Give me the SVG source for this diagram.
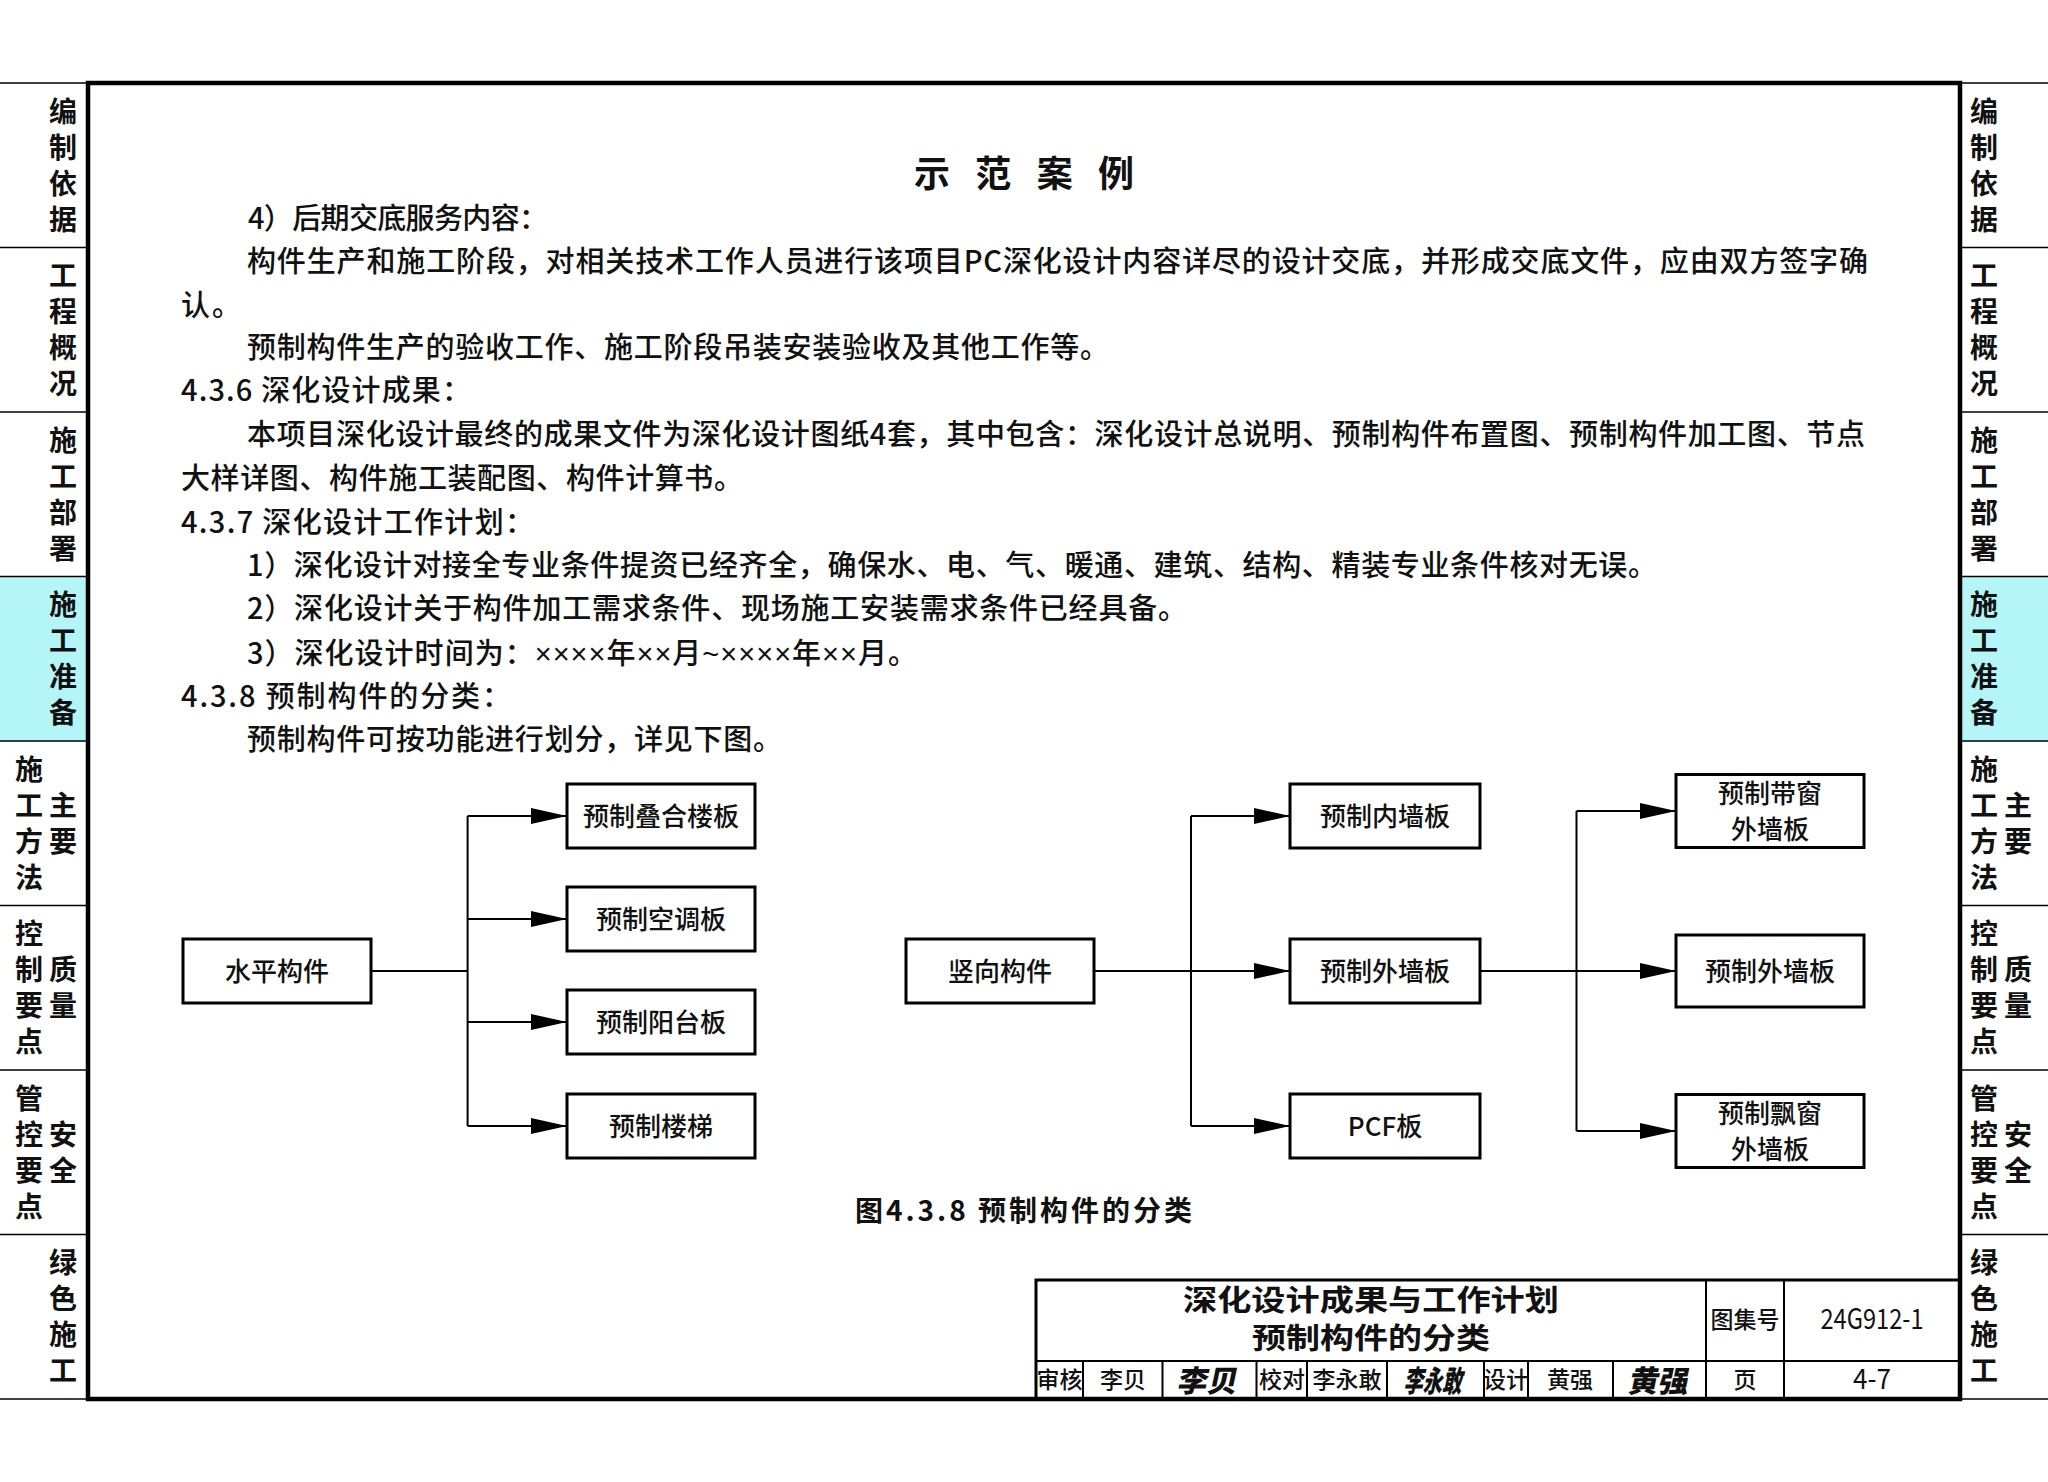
<svg xmlns="http://www.w3.org/2000/svg" width="2048" height="1482" viewBox="0 0 2048 1482">
<defs>
<style>
.t{font-family:"Noto Sans CJK SC","Noto Sans",sans-serif;fill:#111}
.body{font-size:29px;font-weight:500}
.tab{font-size:28px;font-weight:600;text-anchor:middle}
.box{fill:#fff;stroke:#000;stroke-width:3}
.bt{font-size:26px;font-weight:500;text-anchor:middle}
.conn{stroke:#000;stroke-width:2;fill:none}
.arr{stroke:#000;stroke-width:2;fill:none;marker-end:url(#ah)}
.tl{stroke:#000;stroke-width:1.5}
.tb{stroke:#000;stroke-width:2;fill:none}
.tbt{font-size:23px;font-weight:500;text-anchor:middle}
.sig{font-size:30px;font-weight:900;text-anchor:middle}
.lat{font-family:"Liberation Sans",sans-serif}
</style>
<marker id="ah" markerUnits="userSpaceOnUse" markerWidth="36" markerHeight="16" refX="36" refY="8" orient="auto"><path d="M0,0 L36,8 L0,16 Z" fill="#000"/></marker>
</defs>
<rect x="0" y="0" width="2048" height="1482" fill="#fff"/>

<g id="tabs-left">
<rect x="0" y="576.5" width="88" height="164.5" fill="#b4f6f8"/>
<g class="tl">
<line x1="0" y1="83" x2="88" y2="83"/><line x1="0" y1="247.5" x2="88" y2="247.5"/><line x1="0" y1="412" x2="88" y2="412"/><line x1="0" y1="576.5" x2="88" y2="576.5"/><line x1="0" y1="741" x2="88" y2="741"/><line x1="0" y1="905.5" x2="88" y2="905.5"/><line x1="0" y1="1070" x2="88" y2="1070"/><line x1="0" y1="1234.5" x2="88" y2="1234.5"/><line x1="0" y1="1399" x2="88" y2="1399"/>
</g>
<text class="t tab"><tspan x="63" y="121.5">编</tspan><tspan x="63" y="157.5">制</tspan><tspan x="63" y="193.5">依</tspan><tspan x="63" y="229.5">据</tspan></text>
<text class="t tab"><tspan x="63" y="286">工</tspan><tspan x="63" y="322">程</tspan><tspan x="63" y="358">概</tspan><tspan x="63" y="394">况</tspan></text>
<text class="t tab"><tspan x="63" y="450.5">施</tspan><tspan x="63" y="486.5">工</tspan><tspan x="63" y="522.5">部</tspan><tspan x="63" y="558.5">署</tspan></text>
<text class="t tab"><tspan x="63" y="615">施</tspan><tspan x="63" y="651">工</tspan><tspan x="63" y="687">准</tspan><tspan x="63" y="723">备</tspan></text>
<text class="t tab"><tspan x="29" y="779.5">施</tspan><tspan x="29" y="815.5">工</tspan><tspan x="29" y="851.5">方</tspan><tspan x="29" y="887.5">法</tspan></text>
<text class="t tab"><tspan x="63" y="815.5">主</tspan><tspan x="63" y="851.5">要</tspan></text>
<text class="t tab"><tspan x="29" y="944">控</tspan><tspan x="29" y="980">制</tspan><tspan x="29" y="1016">要</tspan><tspan x="29" y="1052">点</tspan></text>
<text class="t tab"><tspan x="63" y="980">质</tspan><tspan x="63" y="1016">量</tspan></text>
<text class="t tab"><tspan x="29" y="1108.5">管</tspan><tspan x="29" y="1144.5">控</tspan><tspan x="29" y="1180.5">要</tspan><tspan x="29" y="1216.5">点</tspan></text>
<text class="t tab"><tspan x="63" y="1144.5">安</tspan><tspan x="63" y="1180.5">全</tspan></text>
<text class="t tab"><tspan x="63" y="1273">绿</tspan><tspan x="63" y="1309">色</tspan><tspan x="63" y="1345">施</tspan><tspan x="63" y="1381">工</tspan></text>
</g>

<g id="tabs-right">
<rect x="1960" y="576.5" width="88" height="164.5" fill="#b4f6f8"/>
<g class="tl">
<line x1="1960" y1="83" x2="2048" y2="83"/><line x1="1960" y1="247.5" x2="2048" y2="247.5"/><line x1="1960" y1="412" x2="2048" y2="412"/><line x1="1960" y1="576.5" x2="2048" y2="576.5"/><line x1="1960" y1="741" x2="2048" y2="741"/><line x1="1960" y1="905.5" x2="2048" y2="905.5"/><line x1="1960" y1="1070" x2="2048" y2="1070"/><line x1="1960" y1="1234.5" x2="2048" y2="1234.5"/><line x1="1960" y1="1399" x2="2048" y2="1399"/>
</g>
<text class="t tab"><tspan x="1984" y="121.5">编</tspan><tspan x="1984" y="157.5">制</tspan><tspan x="1984" y="193.5">依</tspan><tspan x="1984" y="229.5">据</tspan></text>
<text class="t tab"><tspan x="1984" y="286">工</tspan><tspan x="1984" y="322">程</tspan><tspan x="1984" y="358">概</tspan><tspan x="1984" y="394">况</tspan></text>
<text class="t tab"><tspan x="1984" y="450.5">施</tspan><tspan x="1984" y="486.5">工</tspan><tspan x="1984" y="522.5">部</tspan><tspan x="1984" y="558.5">署</tspan></text>
<text class="t tab"><tspan x="1984" y="615">施</tspan><tspan x="1984" y="651">工</tspan><tspan x="1984" y="687">准</tspan><tspan x="1984" y="723">备</tspan></text>
<text class="t tab"><tspan x="1984" y="779.5">施</tspan><tspan x="1984" y="815.5">工</tspan><tspan x="1984" y="851.5">方</tspan><tspan x="1984" y="887.5">法</tspan></text>
<text class="t tab"><tspan x="2018" y="815.5">主</tspan><tspan x="2018" y="851.5">要</tspan></text>
<text class="t tab"><tspan x="1984" y="944">控</tspan><tspan x="1984" y="980">制</tspan><tspan x="1984" y="1016">要</tspan><tspan x="1984" y="1052">点</tspan></text>
<text class="t tab"><tspan x="2018" y="980">质</tspan><tspan x="2018" y="1016">量</tspan></text>
<text class="t tab"><tspan x="1984" y="1108.5">管</tspan><tspan x="1984" y="1144.5">控</tspan><tspan x="1984" y="1180.5">要</tspan><tspan x="1984" y="1216.5">点</tspan></text>
<text class="t tab"><tspan x="2018" y="1144.5">安</tspan><tspan x="2018" y="1180.5">全</tspan></text>
<text class="t tab"><tspan x="1984" y="1273">绿</tspan><tspan x="1984" y="1309">色</tspan><tspan x="1984" y="1345">施</tspan><tspan x="1984" y="1381">工</tspan></text>
</g>

<rect id="frame" x="88" y="83" width="1872" height="1316" fill="none" stroke="#000" stroke-width="4.5"/>

<g id="heading">
<text class="t" x="914" y="187" font-size="36" font-weight="700" textLength="220" lengthAdjust="spacing">示范案例</text>
</g>

<g id="body-text" class="t body">
<text x="248" y="228.6" textLength="300" lengthAdjust="spacing">4）后期交底服务内容：</text>
<text x="247" y="271.7" textLength="1621" lengthAdjust="spacing">构件生产和施工阶段，对相关技术工作人员进行该项目PC深化设计内容详尽的设计交底，并形成交底文件，应由双方签字确</text>
<text x="181" y="316" textLength="60" lengthAdjust="spacing">认。</text>
<text x="247" y="358" textLength="862" lengthAdjust="spacing">预制构件生产的验收工作、施工阶段吊装安装验收及其他工作等。</text>
<text x="181" y="401" textLength="290" lengthAdjust="spacing">4.3.6 深化设计成果：</text>
<text x="247" y="445.4" textLength="1618" lengthAdjust="spacing">本项目深化设计最终的成果文件为深化设计图纸4套，其中包含：深化设计总说明、预制构件布置图、预制构件加工图、节点</text>
<text x="181" y="488.5" textLength="562" lengthAdjust="spacing">大样详图、构件施工装配图、构件计算书。</text>
<text x="181" y="533" textLength="353" lengthAdjust="spacing">4.3.7 深化设计工作计划：</text>
<text x="247" y="576" textLength="1410" lengthAdjust="spacing">1）深化设计对接全专业条件提资已经齐全，确保水、电、气、暖通、建筑、结构、精装专业条件核对无误。</text>
<text x="247" y="619" textLength="940" lengthAdjust="spacing">2）深化设计关于构件加工需求条件、现场施工安装需求条件已经具备。</text>
<text x="247" y="663.5" textLength="670" lengthAdjust="spacing">3）深化设计时间为：<tspan class="lat">××××</tspan>年<tspan class="lat">××</tspan>月<tspan class="lat">~××××</tspan>年<tspan class="lat">××</tspan>月。</text>
<text x="181" y="706.6" textLength="330" lengthAdjust="spacing">4.3.8 预制构件的分类：</text>
<text x="247" y="749.7" textLength="535" lengthAdjust="spacing">预制构件可按功能进行划分，详见下图。</text>
</g>

<g id="connectors">
<path class="conn" d="M371,971 H467.6 M467.6,816 V1126"/>
<path class="arr" d="M467.6,816 H567"/>
<path class="arr" d="M467.6,919 H567"/>
<path class="arr" d="M467.6,1022 H567"/>
<path class="arr" d="M467.6,1126 H567"/>
<path class="conn" d="M1191,816 V1126"/>
<path class="arr" d="M1094,971 H1290"/>
<path class="arr" d="M1191,816 H1290"/>
<path class="arr" d="M1191,1126 H1290"/>
<path class="conn" d="M1576.5,811 V1131"/>
<path class="arr" d="M1480,971 H1676"/>
<path class="arr" d="M1576.5,811 H1676"/>
<path class="arr" d="M1576.5,1131 H1676"/>
</g>

<g id="node-horizontal"><rect class="box" x="183" y="939" width="188" height="64"/><text class="t bt" x="277" y="981">水平构件</text></g>
<g id="node-h1"><rect class="box" x="567" y="784" width="188" height="64"/><text class="t bt" x="661" y="826">预制叠合楼板</text></g>
<g id="node-h2"><rect class="box" x="567" y="887" width="188" height="64"/><text class="t bt" x="661" y="929">预制空调板</text></g>
<g id="node-h3"><rect class="box" x="567" y="990" width="188" height="64"/><text class="t bt" x="661" y="1032">预制阳台板</text></g>
<g id="node-h4"><rect class="box" x="567" y="1094" width="188" height="64"/><text class="t bt" x="661" y="1136">预制楼梯</text></g>

<g id="node-vertical"><rect class="box" x="906" y="939" width="188" height="64"/><text class="t bt" x="1000" y="981">竖向构件</text></g>
<g id="node-v1"><rect class="box" x="1290" y="784" width="190" height="64"/><text class="t bt" x="1385" y="826">预制内墙板</text></g>
<g id="node-v2"><rect class="box" x="1290" y="939" width="190" height="64"/><text class="t bt" x="1385" y="981">预制外墙板</text></g>
<g id="node-v3"><rect class="box" x="1290" y="1094" width="190" height="64"/><text class="t bt" x="1385" y="1136">PCF板</text></g>

<g id="node-w1"><rect class="box" x="1676" y="774.5" width="188" height="73"/><text class="t bt"><tspan x="1770" y="803">预制带窗</tspan><tspan x="1770" y="839">外墙板</tspan></text></g>
<g id="node-w2"><rect class="box" x="1676" y="935" width="188" height="72"/><text class="t bt" x="1770" y="981">预制外墙板</text></g>
<g id="node-w3"><rect class="box" x="1676" y="1094.5" width="188" height="73"/><text class="t bt"><tspan x="1770" y="1123">预制飘窗</tspan><tspan x="1770" y="1159">外墙板</tspan></text></g>

<g id="caption">
<text class="t" x="855" y="1221" font-size="28" font-weight="700" textLength="337" lengthAdjust="spacing">图4.3.8 预制构件的分类</text>
</g>

<g id="title-block">
<path d="M1036,1399 V1280 H1960" fill="none" stroke="#000" stroke-width="3"/>
<path class="tb" d="M1036,1361 H1960 M1706,1280 V1399 M1784,1280 V1399 M1083,1361 V1399 M1162.5,1361 V1399 M1256.5,1361 V1399 M1307,1361 V1399 M1387,1361 V1399 M1484,1361 V1399 M1528,1361 V1399 M1613,1361 V1399"/>
<text class="t" x="1371" y="1311" font-size="29" font-weight="700" text-anchor="middle" textLength="376" lengthAdjust="spacingAndGlyphs">深化设计成果与工作计划</text>
<text class="t" x="1371" y="1349" font-size="29" font-weight="700" text-anchor="middle" textLength="238" lengthAdjust="spacingAndGlyphs">预制构件的分类</text>
<text class="t tbt" x="1745" y="1328">图集号</text>
<text class="t" x="1872" y="1329" font-size="28" text-anchor="middle" font-family="Liberation Sans" textLength="103" lengthAdjust="spacingAndGlyphs">24G912-1</text>
<text class="t tbt" x="1745" y="1388">页</text>
<text class="t" x="1872" y="1389" font-size="28" text-anchor="middle" textLength="38" lengthAdjust="spacingAndGlyphs">4-7</text>
<text class="t tbt" x="1059.5" y="1388">审核</text>
<text class="t tbt" x="1123" y="1388">李贝</text>
<text class="t tbt" x="1282" y="1388">校对</text>
<text class="t tbt" x="1347" y="1388">李永敢</text>
<text class="t tbt" x="1506" y="1388">设计</text>
<text class="t tbt" x="1570" y="1388">黄强</text>
<text class="t sig" x="1209" y="1392" style="transform-box:fill-box;transform-origin:center" transform="skewX(-12)">李贝</text>
<text class="t sig" x="1435" y="1392" textLength="58" lengthAdjust="spacingAndGlyphs" style="transform-box:fill-box;transform-origin:center" transform="skewX(-12)">李永敢</text>
<text class="t sig" x="1660" y="1392" style="transform-box:fill-box;transform-origin:center" transform="skewX(-12)">黄强</text>
</g>
</svg>
